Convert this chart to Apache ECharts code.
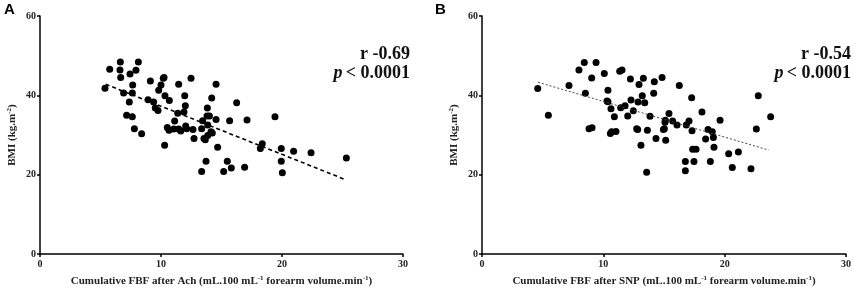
<!DOCTYPE html>
<html>
<head>
<meta charset="utf-8">
<script src="https://cdn.jsdelivr.net/npm/echarts@6/dist/echarts.min.js"></script>
<style>
  html, body { margin: 0; padding: 0; background: #fff; }
  #chart { width: 854px; height: 292px; }
</style>
</head>
<body>
<div id="chart"></div>
<script>
// panel A: cumulative FBF after Ach vs BMI
var achX = [5.37, 5.76, 6.64, 6.61, 6.67, 6.91, 7.44, 7.38, 7.16, 7.63, 7.66, 7.63, 7.80, 7.93, 8.13, 8.40,
  8.93, 9.12, 9.39, 9.53, 9.75, 9.81, 10.0, 10.19, 10.25, 10.33, 10.30, 10.52, 10.69, 10.66, 11.05, 11.13,
  11.38, 11.46, 11.46, 11.63, 11.96, 12.01, 11.90, 12.04, 12.12, 12.48, 12.64, 12.73, 13.36, 13.44, 13.36,
  13.55, 13.66, 13.72, 13.80, 13.83, 13.86, 13.86, 14.0, 14.13, 14.19, 14.24, 14.55, 14.55, 14.68, 15.18,
  15.48, 15.67, 15.81, 16.25, 16.91, 17.11, 18.21, 18.37, 19.42, 19.94, 19.94, 20.03, 20.96, 22.40, 25.32];
var achBmi = [41.8, 46.6, 48.4, 46.4, 44.5, 40.6, 45.4, 38.3, 35.0, 34.6, 42.6, 40.6, 31.6, 46.3, 48.4, 30.3,
  38.9, 43.6, 38.3, 36.8, 36.2, 41.3, 42.6, 44.3, 44.5, 39.9, 27.4, 31.9, 38.7, 31.2, 31.5, 33.5,
  35.5, 42.8, 31.5, 31.0, 39.9, 37.4, 35.8, 32.3, 31.6, 44.3, 31.4, 29.1, 20.8, 33.6, 31.6,
  29.1, 28.8, 23.4, 34.8, 36.8, 32.5, 29.9, 34.8, 30.8, 39.3, 30.5, 42.8, 33.9, 26.9, 20.8,
  23.4, 33.6, 21.7, 38.1, 21.9, 33.8, 26.6, 27.8, 34.6, 26.6, 23.4, 20.5, 25.9, 25.5, 24.2];
var achFitX = [5.43, 25.2];
var achFitY = [42.8, 18.8];

// panel B: cumulative FBF after SNP vs BMI
var snpX = [4.59, 5.47, 7.17, 7.99, 8.43, 8.52, 8.82, 9.07, 9.04, 9.40, 10.08, 10.30, 10.38, 10.38, 10.63,
  10.58, 10.69, 10.91, 11.04, 11.35, 11.54, 11.43, 11.79, 12.01, 12.23, 12.28, 12.47, 12.75, 12.83, 12.86,
  12.94, 13.10, 13.21, 13.30, 13.41, 13.57, 13.63, 13.85, 14.20, 14.15, 14.34, 14.84, 14.95, 15.03, 15.11,
  15.08, 15.14, 15.41, 15.71, 16.07, 16.26, 16.76, 16.76, 16.84, 17.06, 17.28, 17.31, 17.36, 17.47, 17.64,
  18.13, 18.43, 18.63, 18.82, 18.98, 19.07, 19.12, 19.62, 20.33, 20.63, 21.13, 22.17, 22.61, 22.77, 23.79];
var snpBmi = [41.7, 35.0, 42.5, 46.4, 48.3, 40.5, 31.6, 31.8, 44.4, 48.3, 45.5, 38.6, 38.4, 41.3, 36.6,
  30.4, 30.8, 34.6, 30.9, 46.1, 46.4, 36.9, 37.4, 34.8, 44.1, 38.8, 36.1, 31.6, 31.4, 38.3,
  42.7, 27.4, 39.9, 44.3, 38.1, 20.6, 31.2, 34.7, 43.4, 40.5, 29.1, 44.5, 31.4, 31.6, 33.7,
  33.2, 28.7, 35.4, 33.5, 32.5, 42.5, 23.3, 21.0, 32.5, 33.5, 39.4, 31.1, 26.4, 23.3, 26.4,
  35.8, 29.0, 31.4, 23.3, 30.8, 29.4, 26.9, 33.7, 25.3, 21.8, 25.7, 21.5, 31.5, 39.9, 34.6];
var snpFitX = [4.62, 23.63];
var snpFitY = [43.3, 26.2];

var xTicks = [0, 10, 20, 30];
var yTicks = [0, 20, 40, 60];

var achStats = ['r -0.69', '< 0.0001'];
var snpStats = ['r -0.54', '< 0.0001'];

var serif = '"Liberation Serif", "DejaVu Serif", serif';

function pairs(xs, ys) {
  return xs.map(function (x, i) { return [x, ys[i]]; });
}

var supRich = {
  n: { fontFamily: serif, fontWeight: 'bold', fontSize: 11, color: '#222', lineHeight: 12, verticalAlign: 'bottom' },
  s: { fontFamily: serif, fontWeight: 'bold', fontSize: 7, color: '#222', lineHeight: 12, verticalAlign: 'top' }
};

function xAxisFor(idx, name) {
  return {
    type: 'value', gridIndex: idx, min: 0, max: 30, interval: 10,
    name: name, nameLocation: 'middle', nameGap: 21,
    nameTextStyle: { rich: supRich },
    axisLine: { show: true, lineStyle: { color: '#000', width: 1.5 } },
    axisTick: { show: true, length: 3, lineStyle: { color: '#000', width: 1.5 } },
    axisLabel: { fontFamily: serif, fontWeight: 'bold', fontSize: 10, color: '#222', margin: 5 },
    splitLine: { show: false }
  };
}

function yAxisFor(idx) {
  return {
    type: 'value', gridIndex: idx, min: 0, max: 60, interval: 20,
    name: '{n|BMI (kg.m}{s|-2}{n|)}', nameLocation: 'middle', nameGap: 22, nameRotate: 90,
    nameTextStyle: { rich: supRich },
    axisLine: { show: true, lineStyle: { color: '#000', width: 1.5 } },
    axisTick: { show: true, length: 3, lineStyle: { color: '#000', width: 1.5 } },
    axisLabel: { fontFamily: serif, fontWeight: 'bold', fontSize: 10, color: '#222', margin: 4 },
    splitLine: { show: false }
  };
}

function statsText(right, stats) {
  return [
    { type: 'text', right: right, top: 45,
      style: { text: stats[0], font: 'bold 18px ' + serif, fill: '#111', textAlign: 'right' } },
    { type: 'text', right: right, top: 64,
      style: { text: '{i|p} {n|' + stats[1] + '}', fill: '#111',
        rich: {
          i: { font: 'italic bold 18px ' + serif, fill: '#111' },
          n: { font: 'bold 18px ' + serif, fill: '#111' }
        } } }
  ];
}

var chart = echarts.init(document.getElementById('chart'));
chart.setOption({
  animation: false,
  grid: [
    { left: 40, right: 451, top: 16, bottom: 35 },
    { left: 482, right: 8, top: 16, bottom: 34 }
  ],
  xAxis: [
    xAxisFor(0, '{n|Cumulative FBF after Ach (mL.100 mL}{s|-1}{n| forearm volume.min}{s|-1}{n|)}'),
    xAxisFor(1, '{n|Cumulative FBF after SNP (mL.100 mL}{s|-1}{n| forearm volume.min}{s|-1}{n|)}')
  ],
  yAxis: [yAxisFor(0), yAxisFor(1)],
  graphic: [
    { type: 'text', left: 4, top: 2, style: { text: 'A', font: 'bold 15px Arial, "Liberation Sans", sans-serif', fill: '#000' } },
    { type: 'text', left: 435, top: 2, style: { text: 'B', font: 'bold 15px Arial, "Liberation Sans", sans-serif', fill: '#000' } }
  ].concat(statsText(444, achStats)).concat(statsText(3, snpStats)),
  series: [
    {
      type: 'scatter', xAxisIndex: 0, yAxisIndex: 0, symbolSize: 7,
      itemStyle: { color: '#000', opacity: 1 },
      data: pairs(achX, achBmi)
    },
    {
      type: 'line', xAxisIndex: 0, yAxisIndex: 0, showSymbol: false,
      lineStyle: { color: '#000', width: 1.6, type: [4, 3] },
      data: pairs(achFitX, achFitY)
    },
    {
      type: 'scatter', xAxisIndex: 1, yAxisIndex: 1, symbolSize: 7,
      itemStyle: { color: '#000', opacity: 1 },
      data: pairs(snpX, snpBmi)
    },
    {
      type: 'line', xAxisIndex: 1, yAxisIndex: 1, showSymbol: false,
      lineStyle: { color: '#444', width: 1, type: [2, 2] },
      data: pairs(snpFitX, snpFitY)
    }
  ]
});
</script>
</body>
</html>
